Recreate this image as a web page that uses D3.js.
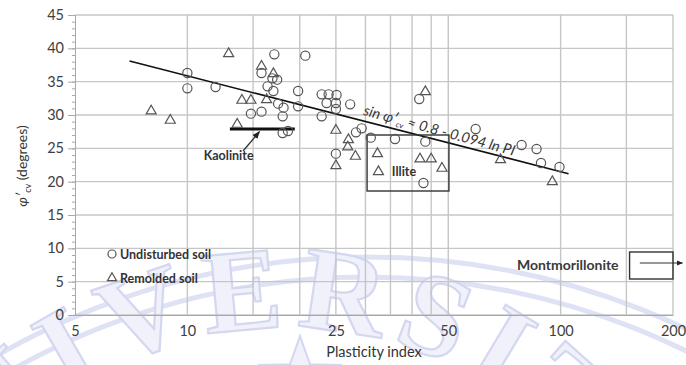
<!DOCTYPE html>
<html>
<head>
<meta charset="utf-8">
<script src="https://cdn.jsdelivr.net/npm/d3@7/dist/d3.min.js"></script>
<style>
  body { margin: 0; background: #fff; }
  svg { display: block; font-family: Lato, "Open Sans", sans-serif; }
</style>
</head>
<body>
<script>
// tick labels and grid positions
const xTickValues = [5, 10, 25, 50, 100, 200];
const xGridValues = [10, 15, 20, 25, 30, 35, 40, 45, 50, 100, 150, 200];
const yTickValues = [0, 5, 10, 15, 20, 25, 30, 35, 40, 45];

// [plasticity index, phi'cv]
const undisturbed = [
  [10.0, 36.3], [10.0, 34.0], [11.9, 34.2], [17.1, 39.1], [20.7, 38.9],
  [15.8, 36.3], [16.9, 35.5], [17.4, 35.3], [16.4, 34.3], [17.0, 33.6],
  [19.8, 33.6], [17.5, 31.7], [18.1, 31.1], [19.8, 31.3], [14.8, 30.2],
  [15.8, 30.5], [18.0, 29.8], [18.0, 27.3], [18.6, 27.6], [22.9, 33.1],
  [23.9, 33.1], [25.1, 33.0], [23.6, 31.8], [25.0, 31.8], [25.0, 30.9],
  [22.9, 29.8], [25.0, 24.2], [27.3, 31.6], [29.3, 28.0], [28.3, 27.4],
  [31.0, 26.6], [36.0, 26.4], [43.4, 26.0], [41.8, 32.4], [42.9, 19.8],
  [59.2, 27.9], [78.6, 25.5], [86.2, 24.9], [88.6, 22.8], [99.3, 22.2]
];
const remolded = [
  [8.0, 30.6], [9.0, 29.2], [12.9, 39.2], [13.6, 28.6], [14.0, 32.2],
  [14.8, 32.2], [15.8, 37.3], [17.0, 36.2], [16.3, 32.3], [25.0, 27.7],
  [25.0, 22.4], [27.0, 26.3], [26.9, 25.2], [28.2, 23.8], [32.3, 24.2],
  [32.5, 21.5], [42.0, 23.4], [45.0, 23.4], [48.1, 22.0], [43.4, 33.5],
  [69.0, 23.3], [95.0, 20.0]
];

// trend line end points, sin phi = 0.8 - 0.094 ln PI
const trendLine = [[7.0, 38.1], [105, 21.2]];
// clay mineral ranges
const kaolinite = [[13.0, 27.9], [19.4, 27.9]];
const illiteBox = { x0: 30.3, x1: 50.2, y0: 18.6, y1: 27.0 };
const montBox = { x0: 153, x1: 200, y0: 5.4, y1: 9.45 };
const montArrow = [[163, 7.8], [212, 7.8]];

const W = 686, H = 365;
const margin = { top: 15, right: 13, bottom: 50, left: 75 };

const svg = d3.select("body").append("svg")
  .attr("width", W)
  .attr("height", H);

const defs = svg.append("defs");
defs.append("marker")
  .attr("id", "arrow")
  .attr("viewBox", "0 0 10 10")
  .attr("refX", 9).attr("refY", 5)
  .attr("markerWidth", 6).attr("markerHeight", 6)
  .attr("orient", "auto")
  .append("path")
  .attr("d", "M0,1 L10,5 L0,9 Z")
  .attr("fill", "#222");

// faint university watermark behind the chart
const wm = svg.append("g").attr("class", "watermark");
[725, 745].forEach(function (r) {
  wm.append("circle")
    .attr("cx", 367).attr("cy", 1002).attr("r", r)
    .attr("fill", "none")
    .attr("stroke", "#dfe2f4")
    .attr("stroke-width", 5);
});
const cx = 286, cy = 718, rText = 390;
defs.append("path")
  .attr("id", "wmPath")
  .attr("d", "M" + (cx - rText) + "," + cy + " A" + rText + "," + rText + " 0 0 1 " + (cx + rText) + "," + cy);
wm.append("text")
  .attr("font-family", "'Liberation Serif', 'DejaVu Serif', serif")
  .attr("font-weight", "bold")
  .attr("font-size", 118)
  .attr("letter-spacing", 11)
  .attr("fill", "#f0f1fa")
  .attr("stroke", "#d3d7ef")
  .attr("stroke-width", 2.2)
  .append("textPath")
  .attr("href", "#wmPath")
  .attr("startOffset", "50%")
  .attr("text-anchor", "middle")
  .text("UNIVERSITY");
const star = d3.range(10).map(function (i) {
  const a = -Math.PI / 2 + i * Math.PI / 5, r = i % 2 ? 17 : 42;
  return [300 + r * Math.cos(a), 378 + r * Math.sin(a)];
});
wm.append("path")
  .attr("d", "M" + star.join("L") + "Z")
  .attr("fill", "#f0f1fa")
  .attr("stroke", "#d3d7ef")
  .attr("stroke-width", 2);

const x = d3.scaleLog()
  .domain([5, 200])
  .range([margin.left, W - margin.right]);

const y = d3.scaleLinear()
  .domain([0, 45])
  .range([H - margin.bottom, margin.top]);

// grid
const grid = svg.append("g").attr("stroke", "#c6c6c6").attr("stroke-width", 1.4);
grid.selectAll(".hgrid")
  .data(yTickValues)
  .enter().append("line")
  .attr("x1", x(5)).attr("x2", x(200))
  .attr("y1", d => y(d)).attr("y2", d => y(d));
grid.selectAll(".vgrid")
  .data(xGridValues)
  .enter().append("line")
  .attr("x1", d => x(d)).attr("x2", d => x(d))
  .attr("y1", y(0)).attr("y2", y(45));

// y axis with minor ticks
const minor = svg.append("g")
  .attr("transform", "translate(" + margin.left + ",0)")
  .call(d3.axisLeft(y).tickValues(d3.range(0, 46, 1)).tickSize(3).tickFormat(""));
minor.selectAll("text").remove();
minor.selectAll("line,path").attr("stroke", "#a8a8a8");

const yAxis = svg.append("g")
  .attr("transform", "translate(" + margin.left + ",0)")
  .call(d3.axisLeft(y).tickValues(yTickValues).tickSize(7).tickPadding(4));
yAxis.select(".domain").remove();
yAxis.selectAll("line").attr("stroke", "#a8a8a8");
yAxis.selectAll("text")
  .attr("font-family", "Lato, sans-serif")
  .attr("font-size", 14.5)
  .attr("fill", "#404040");

const xAxis = svg.append("g")
  .attr("transform", "translate(0," + y(0) + ")")
  .call(d3.axisBottom(x).tickValues(xTickValues).tickSize(0).tickPadding(11).tickFormat(d3.format("d")));
xAxis.select(".domain").attr("stroke", "#a8a8a8");
xAxis.selectAll("text")
  .attr("font-family", "Lato, sans-serif")
  .attr("font-size", 14.5)
  .attr("fill", "#404040");

// axis titles
svg.append("text")
  .attr("x", (x(5) + x(200)) / 2)
  .attr("y", 357)
  .attr("text-anchor", "middle")
  .attr("font-size", 14.5)
  .attr("fill", "#333")
  .text("Plasticity index");

const yTitle = svg.append("text")
  .attr("transform", "translate(27,166) rotate(-90)")
  .attr("text-anchor", "middle")
  .attr("font-size", 14)
  .attr("fill", "#333");
yTitle.append("tspan").attr("font-style", "italic").text("\u03C6\u2032");
yTitle.append("tspan").attr("font-size", 9).attr("dy", 4).text("cv");
yTitle.append("tspan").attr("dy", -4).text(" (degrees)");

// trend line
const line = d3.line().x(d => x(d[0])).y(d => y(d[1]));
svg.append("path")
  .datum(trendLine)
  .attr("d", line)
  .attr("fill", "none")
  .attr("stroke", "#111")
  .attr("stroke-width", 1.6);

// equation along the line
const p0 = [x(trendLine[0][0]), y(trendLine[0][1])];
const p1 = [x(trendLine[1][0]), y(trendLine[1][1])];
const angle = Math.atan2(p1[1] - p0[1], p1[0] - p0[0]) * 180 / Math.PI;
const eqX = x(29.5);
const eqY = p0[1] + (eqX - p0[0]) * (p1[1] - p0[1]) / (p1[0] - p0[0]) - 6;
const eq = svg.append("text")
  .attr("transform", "translate(" + eqX + "," + eqY + ") rotate(" + (angle + 0.8) + ")")
  .attr("font-size", 14.5)
  .attr("font-style", "italic")
  .attr("fill", "#333");
eq.append("tspan").text("sin ");
eq.append("tspan").text("\u03C6\u2032");
eq.append("tspan").attr("font-size", 8).attr("dy", 3).text("cv");
eq.append("tspan").attr("dy", -3).text(" \u2248 0.8 - 0.094 ln ");
eq.append("tspan").text("PI");

// kaolinite
svg.append("path")
  .datum(kaolinite)
  .attr("d", line)
  .attr("stroke", "#111")
  .attr("stroke-width", 3.2);
svg.append("line")
  .attr("x1", x(14.1)).attr("y1", y(24.6))
  .attr("x2", x(15.6)).attr("y2", y(27.5))
  .attr("stroke", "#333")
  .attr("stroke-width", 1.3)
  .attr("marker-end", "url(#arrow)");
svg.append("text")
  .attr("x", x(12.9)).attr("y", y(23.3))
  .attr("text-anchor", "middle")
  .attr("font-size", 12.5)
  .attr("font-weight", "bold")
  .attr("fill", "#333")
  .text("Kaolinite");

// illite
svg.append("rect")
  .attr("x", x(illiteBox.x0)).attr("y", y(illiteBox.y1))
  .attr("width", x(illiteBox.x1) - x(illiteBox.x0))
  .attr("height", y(illiteBox.y0) - y(illiteBox.y1))
  .attr("fill", "none")
  .attr("stroke", "#333")
  .attr("stroke-width", 1.4);
svg.append("text")
  .attr("x", x(35.3)).attr("y", y(20.9))
  .attr("font-size", 12.5)
  .attr("font-weight", "bold")
  .attr("fill", "#333")
  .text("Illite");

// montmorillonite
svg.append("rect")
  .attr("x", x(montBox.x0)).attr("y", y(montBox.y1))
  .attr("width", x(montBox.x1) - x(montBox.x0))
  .attr("height", y(montBox.y0) - y(montBox.y1))
  .attr("fill", "none")
  .attr("stroke", "#333")
  .attr("stroke-width", 1.4);
svg.append("path")
  .datum(montArrow)
  .attr("d", line)
  .attr("stroke", "#333")
  .attr("stroke-width", 1)
  .attr("marker-end", "url(#arrow)");
svg.append("text")
  .attr("x", x(143)).attr("y", y(6.75))
  .attr("text-anchor", "end")
  .attr("font-size", 14)
  .attr("font-weight", "bold")
  .attr("fill", "#3a3a3a")
  .text("Montmorillonite");

// data points
const markerColor = "#555";
svg.selectAll(".und")
  .data(undisturbed)
  .enter().append("circle")
  .attr("class", "und")
  .attr("cx", d => x(d[0]))
  .attr("cy", d => y(d[1]))
  .attr("r", 4.6)
  .attr("fill", "none")
  .attr("stroke", markerColor)
  .attr("stroke-width", 1.2);

const tri = d3.symbol().type(d3.symbolTriangle).size(44);
svg.selectAll(".rem")
  .data(remolded)
  .enter().append("path")
  .attr("class", "rem")
  .attr("d", tri)
  .attr("transform", d => "translate(" + x(d[0]) + "," + y(d[1]) + ")")
  .attr("fill", "none")
  .attr("stroke", markerColor)
  .attr("stroke-width", 1.2);

// legend
const legend = svg.append("g").attr("font-size", 12.5).attr("font-weight", "bold").attr("fill", "#333");
legend.append("circle")
  .attr("cx", 112).attr("cy", 254).attr("r", 4)
  .attr("fill", "none").attr("stroke", markerColor).attr("stroke-width", 1.2);
legend.append("text").attr("x", 120).attr("y", 258.5).text("Undisturbed soil");
legend.append("path")
  .attr("d", d3.symbol().type(d3.symbolTriangle).size(36))
  .attr("transform", "translate(112,278)")
  .attr("fill", "none").attr("stroke", markerColor).attr("stroke-width", 1.2);
legend.append("text").attr("x", 120).attr("y", 282.5).text("Remolded soil");
</script>
</body>
</html>
